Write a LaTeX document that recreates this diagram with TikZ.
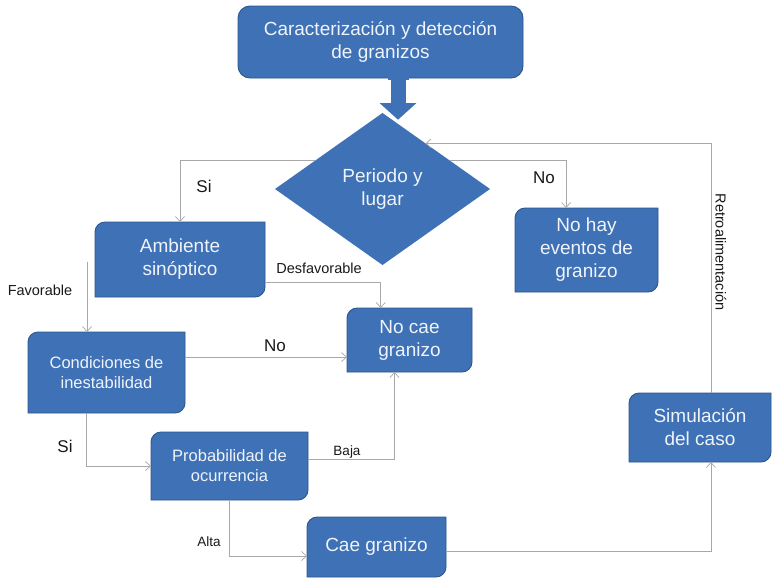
\documentclass[tikz,border=0pt]{standalone}
\usepackage{fontspec}
\setmainfont{Liberation Sans}
\usetikzlibrary{calc,arrows.meta,shapes.geometric}

\definecolor{boxblue}{RGB}{62,113,181}
\definecolor{boxedge}{RGB}{44,86,140}
\definecolor{boxtxt}{RGB}{240,244,250}
\definecolor{linegray}{RGB}{168,168,168}
\definecolor{lbltxt}{RGB}{25,25,25}

\tikzset{
  boxshape/.style={fill=boxblue, draw=boxedge, line width=0.9pt},
  boxtext/.style={inner sep=0pt, outer sep=0pt, text=boxtxt, align=center,
    font=\fontsize{19}{23}\selectfont},
  smalltext/.style={font=\fontsize{16.5}{20}\selectfont},
  conn/.style={draw=linegray, line width=0.8pt,
    -{Straight Barb[length=5pt,width=9pt,line width=0.7pt]}},
  lbl/.style={inner sep=0pt, text=lbltxt},
  lblbig/.style={lbl, font=\fontsize{17}{20}\selectfont},
  lblmid/.style={lbl, font=\fontsize{14.5}{17}\selectfont},
  lblsmall/.style={lbl, font=\fontsize{13.5}{16}\selectfont},
}

% box with rounded top-left and bottom-right corners
% #1 name, #2 left, #3 top, #4 right, #5 bottom, #6 radius, #7 extra style, #8 text
\newcommand{\flowbox}[8]{%
  \filldraw[boxshape] (#2,#5) -- (#2,#3+#6)
    .. controls (#2,#3+0.45*#6) and (#2+0.45*#6,#3) .. (#2+#6,#3)
    -- (#4,#3) -- (#4,#5-#6)
    .. controls (#4,#5-0.45*#6) and (#4-0.45*#6,#5) .. (#4-#6,#5) -- cycle;
  \node[boxtext,#7,minimum width={#4-#2},minimum height={#5-#3}]
    (#1) at ({(#2+#4)/2},{(#3+#5)/2}) {#8};
}

\begin{document}
\begin{tikzpicture}[x=1pt,y=-1pt]
\useasboundingbox[fill=white] (0,0) rectangle (772,582);

% title box
\filldraw[boxshape, rounded corners=12pt] (238,6) rectangle (523,78);
\node[boxtext] (top) at (380.5,42) {Caracterización y detección\\de granizos};

% decision
\node[shape=diamond, fill=boxblue, inner sep=0pt, outer sep=0pt,
      minimum width=215pt, minimum height=152pt, aspect=1.41,
      text=boxtxt, align=center, font=\fontsize{19}{23}\selectfont]
  (dia) at (382.5,189) {Periodo y\\lugar};

% block arrow from the title box into the decision
\filldraw[fill=boxblue, draw=white, line width=1.6pt]
  (390,78) -- (390,102) -- (377,102) -- (398,121) -- (419,102)
  -- (407,102) -- (407,78) -- cycle;
\fill[boxblue] (388,74) rectangle (409,80);

% process boxes
\flowbox{amb}{95}{222}{265}{297}{10}{}{Ambiente\\sinóptico}
\flowbox{nohay}{515}{208}{658}{292}{10}{}{No hay\\eventos de\\granizo}
\flowbox{nocae}{347}{308}{472}{372}{10}{}{No cae\\granizo}
\flowbox{cond}{28}{332}{185}{413}{10}{smalltext}{Condiciones de\\inestabilidad}
\flowbox{prob}{151}{432}{308}{500}{10}{smalltext}{Probabilidad de\\ocurrencia}
\flowbox{cae}{307}{517}{446}{577}{10}{}{Cae granizo}
\flowbox{sim}{629}{393}{771}{462}{10}{}{Simulación\\del caso}

% connectors
\draw[conn] ($(dia.north)!0.63!(dia.west)$) -| (amb.north);
\draw[conn] ($(dia.north)!0.63!(dia.east)$)
  -| ($(nohay.north west)!0.357!(nohay.north east)$);
\draw[conn] ($(amb.south east)!0.2!(amb.north east)$)
  -| ($(nocae.north west)!0.27!(nocae.north east)$);
\coordinate (favstart) at (87,262);
\draw[conn] (favstart) -- (favstart |- cond.north);
\coordinate (noout) at ($(cond.north east)!0.31!(cond.south east)$);
\draw[conn] (noout) -- (noout -| nocae.west);
\draw[conn] ($(cond.south west)!0.37!(cond.south east)$) |- (prob.west);
\draw[conn] ($(prob.east)+(0,-7)$)
  -| ($(nocae.south west)!0.38!(nocae.south east)$);
\draw[conn] (prob.south) |- ($(cae.west)+(0,9)$);
\draw[conn] ($(cae.east)+(0,4)$)
  -| ($(sim.south west)!0.577!(sim.south east)$);
\draw[conn] ($(sim.north west)!0.577!(sim.north east)$)
  |- ($(dia.north)!0.4!(dia.east)$);

% connector labels
\node[lblbig] (lsi1) at (204,186) {Si};
\node[lblbig] (lno1) at (544,178) {No};
\node[lblmid] (ldes) at (319,268.5) {Desfavorable};
\node[lblmid] (lfav) at (40,290) {Favorable};
\node[lblbig] (lno2) at (275,346) {No};
\node[lblbig] (lsi2) at (65,446) {Si};
\node[lblsmall, anchor=base] (lbaja) at (347,455) {Baja};
\node[lblsmall] (lalta) at (209,542) {Alta};
\node[lblmid, rotate=-90] (lretro) at (721,252) {Retroalimentación};
\end{tikzpicture}
\end{document}
